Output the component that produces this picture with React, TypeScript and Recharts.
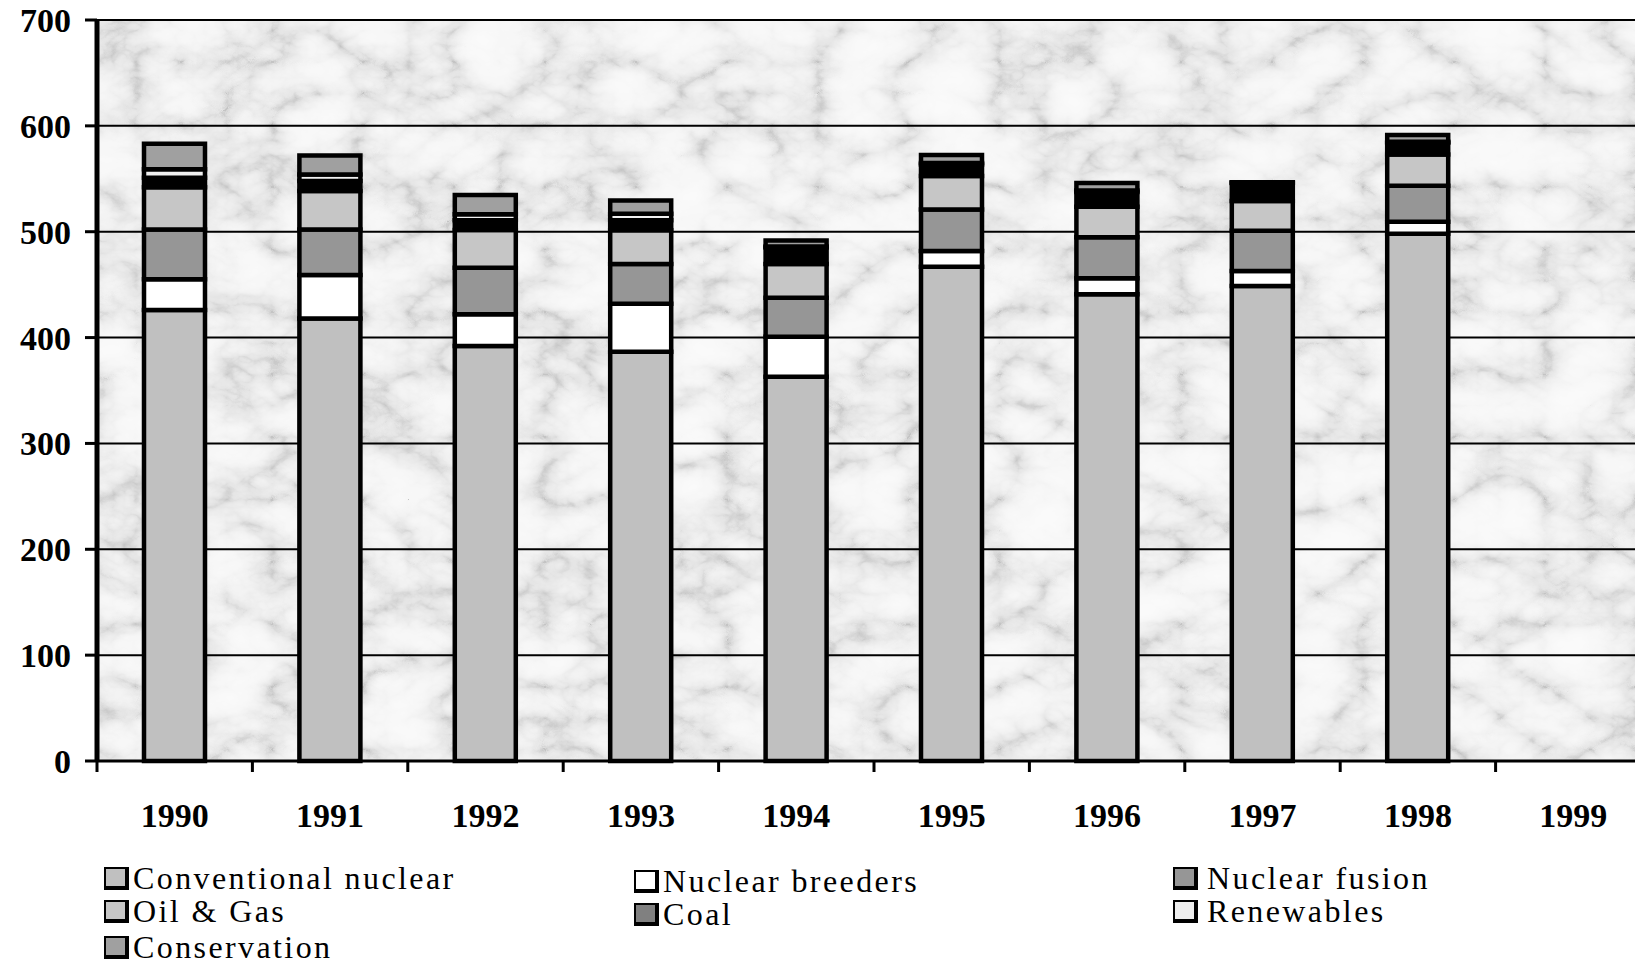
import React from 'react';
import { BarChart, Bar, XAxis, YAxis, CartesianGrid } from 'recharts';

const years = ['1990', '1991', '1992', '1993', '1994', '1995', '1996', '1997', '1998', '1999'];
const conventionalNuclear = [426, 418, 392, 386.6, 363, 467, 441, 448.7, 498, 0];
const nuclearBreeders = [29, 41, 30, 45.4, 37.8, 14.8, 15, 14.3, 11.5, 0];
const nuclearFusion = [47, 43, 44, 37.5, 36.8, 39.2, 38.7, 38, 34, 0];
const oilGas = [40, 36.5, 35.6, 32, 31.9, 31.6, 28.9, 28, 29.5, 0];
const coal = [9, 9.5, 9.2, 9.4, 15.5, 11, 14, 17, 11, 0];
const renewables = [8, 6, 5.6, 6, 1, 1.4, 1.4, 0.4, 1, 0];
const conservation = [24, 18, 18.3, 12.5, 5.7, 7.5, 7, 0.3, 6.4, 0];
const yTicks = [0, 100, 200, 300, 400, 500, 600, 700];

const data = years.map((year, i) => ({
  year,
  conventionalNuclear: conventionalNuclear[i],
  nuclearBreeders: nuclearBreeders[i],
  nuclearFusion: nuclearFusion[i],
  oilGas: oilGas[i],
  coal: coal[i],
  renewables: renewables[i],
  conservation: conservation[i],
}));

const series = [
  { key: 'conventionalNuclear', name: 'Conventional nuclear', fill: '#c0c0c0', swatch: '#c0c0c0' },
  { key: 'nuclearBreeders', name: 'Nuclear breeders', fill: '#ffffff', swatch: '#ffffff' },
  { key: 'nuclearFusion', name: 'Nuclear fusion', fill: '#969696', swatch: '#969696' },
  { key: 'oilGas', name: 'Oil & Gas', fill: '#c6c6c6', swatch: '#c6c6c6' },
  { key: 'coal', name: 'Coal', fill: '#000000', swatch: '#808080' },
  { key: 'renewables', name: 'Renewables', fill: '#f0f0f0', swatch: '#eeeeee' },
  { key: 'conservation', name: 'Conservation', fill: '#a0a0a0', swatch: '#a0a0a0' },
];

// legend layout
const legendItems = [
  { s: 0, left: 104, cy: 878, gap: 4 },
  { s: 1, left: 634, cy: 881, gap: 4 },
  { s: 2, left: 1173, cy: 878, gap: 9 },
  { s: 3, left: 104, cy: 911, gap: 4 },
  { s: 4, left: 634, cy: 914, gap: 4 },
  { s: 5, left: 1173, cy: 911, gap: 9 },
  { s: 6, left: 104, cy: 947, gap: 4 },
];

const CHART_W = 1660;
const LEFT = 97;
const RIGHT = 9;
const HALF_BAND = (CHART_W - LEFT - RIGHT) / years.length / 2;
const serif = '"Liberation Serif", "Times New Roman", serif';

const XTick = (props: any) => {
  const { x, y, payload } = props;
  return (
    <g>
      <line x1={x - HALF_BAND} x2={x - HALF_BAND} y1={y} y2={y + 11} stroke="#000" strokeWidth={3} />
      <text x={x} y={y + 42} dy="0.71em" textAnchor="middle" fontFamily={serif} fontSize={34} fontWeight={700} fill="#000">
        {payload.value}
      </text>
    </g>
  );
};

const tbl = '0.55 0.78 0.88 0.93 0.95 0.96 0.965';

export default function App() {
  return (
    <div style={{ position: 'absolute', left: 0, top: 0, width: 1635, height: 965, overflow: 'hidden', background: '#fff' }}>
      <BarChart width={CHART_W} height={965} data={data} margin={{ top: 20, right: RIGHT, left: 0, bottom: 0 }} barSize={61}>
        <defs>
          <filter id="marbleF" x="0" y="0" width="100%" height="100%" filterUnits="userSpaceOnUse">
            <feTurbulence type="turbulence" baseFrequency="0.011 0.016" numOctaves={5} seed={7} result="t" />
            <feColorMatrix in="t" type="matrix" values="1 0 0 0 0  1 0 0 0 0  1 0 0 0 0  0 0 0 0 1" result="g" />
            <feComponentTransfer in="g">
              <feFuncR type="table" tableValues={tbl} />
              <feFuncG type="table" tableValues={tbl} />
              <feFuncB type="table" tableValues={tbl} />
            </feComponentTransfer>
          </filter>
          <pattern id="marbleP" patternUnits="userSpaceOnUse" x="0" y="0" width="1700" height="800">
            <rect x="0" y="0" width="1700" height="800" fill="#fff" filter="url(#marbleF)" />
          </pattern>
        </defs>
        <CartesianGrid vertical={false} stroke="#000" strokeWidth={2} fill="url(#marbleP)" fillOpacity={1} />
        <XAxis
          dataKey="year"
          height={204}
          axisLine={{ stroke: '#000', strokeWidth: 3 }}
          tickLine={false}
          tickSize={0}
          tickMargin={0}
          interval={0}
          tick={<XTick />}
        />
        <YAxis
          width={LEFT}
          domain={[0, 700]}
          ticks={yTicks}
          interval={0}
          axisLine={{ stroke: '#000', strokeWidth: 5 }}
          tickLine={{ stroke: '#000', strokeWidth: 3 }}
          tickSize={12}
          tickMargin={14}
          tick={{ fill: '#000', fontSize: 34, fontWeight: 700, fontFamily: serif }}
        />
        {series.map((s) => (
          <Bar
            key={s.key}
            dataKey={s.key}
            name={s.name}
            stackId="a"
            fill={s.fill}
            stroke="#000"
            strokeWidth={4.5}
            isAnimationActive={false}
          />
        ))}
      </BarChart>
      {legendItems.map((it) => {
        const s = series[it.s];
        return (
          <div
            key={s.key}
            style={{
              position: 'absolute',
              left: it.left,
              top: it.cy - 15,
              height: 30,
              lineHeight: '30px',
              display: 'flex',
              alignItems: 'center',
              fontFamily: serif,
              fontSize: 32,
              letterSpacing: '2.4px',
              color: '#000',
              whiteSpace: 'nowrap',
            }}
          >
            <div
              style={{
                width: 19,
                height: 17,
                background: s.swatch,
                borderTop: '2px solid #000',
                borderLeft: '2px solid #000',
                borderRight: '4px solid #000',
                borderBottom: '4px solid #000',
                marginRight: it.gap,
                flex: 'none',
              }}
            />
            <span>{s.name}</span>
          </div>
        );
      })}
    </div>
  );
}
